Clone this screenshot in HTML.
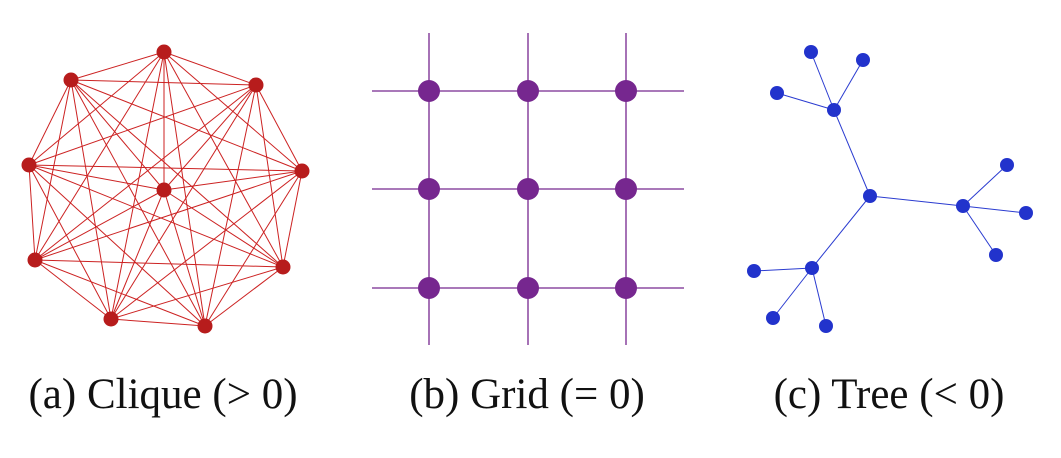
<!DOCTYPE html>
<html><head><meta charset="utf-8"><style>
html,body{margin:0;padding:0;background:#fff;}
svg{display:block}
text{font-family:"Liberation Serif",serif;font-size:43px;fill:#111}
</style></head><body>
<svg width="1061" height="458" viewBox="0 0 1061 458" xmlns="http://www.w3.org/2000/svg">
<g id="clique" stroke="#cc2222" stroke-width="1">
</g>
<g fill="#b71c1c" id="cn"></g>
<g stroke="#76278f" stroke-width="1.3">
<line x1="429" y1="33" x2="429" y2="345"/><line x1="528" y1="33" x2="528" y2="345"/><line x1="626" y1="33" x2="626" y2="345"/>
<line x1="372" y1="91" x2="684" y2="91"/><line x1="372" y1="189" x2="684" y2="189"/><line x1="372" y1="288" x2="684" y2="288"/>
</g>
<g fill="#76278f">
<circle cx="429" cy="91" r="11"/><circle cx="528" cy="91" r="11"/><circle cx="626" cy="91" r="11"/>
<circle cx="429" cy="189" r="11"/><circle cx="528" cy="189" r="11"/><circle cx="626" cy="189" r="11"/>
<circle cx="429" cy="288" r="11"/><circle cx="528" cy="288" r="11"/><circle cx="626" cy="288" r="11"/>
</g>
<g stroke="#2a3bd0" stroke-width="1">
<line x1="870" y1="196" x2="834" y2="110"/><line x1="870" y1="196" x2="963" y2="206"/><line x1="870" y1="196" x2="812" y2="268"/>
<line x1="834" y1="110" x2="811" y2="52"/><line x1="834" y1="110" x2="863" y2="60"/><line x1="834" y1="110" x2="777" y2="93"/>
<line x1="963" y1="206" x2="1007" y2="165"/><line x1="963" y1="206" x2="1026" y2="213"/><line x1="963" y1="206" x2="996" y2="255"/>
<line x1="812" y1="268" x2="754" y2="271"/><line x1="812" y1="268" x2="773" y2="318"/><line x1="812" y1="268" x2="826" y2="326"/>
</g>
<g fill="#2233cc">
<circle cx="870" cy="196" r="7"/><circle cx="834" cy="110" r="7"/><circle cx="963" cy="206" r="7"/><circle cx="812" cy="268" r="7"/>
<circle cx="811" cy="52" r="7"/><circle cx="863" cy="60" r="7"/><circle cx="777" cy="93" r="7"/>
<circle cx="1007" cy="165" r="7"/><circle cx="1026" cy="213" r="7"/><circle cx="996" cy="255" r="7"/>
<circle cx="754" cy="271" r="7"/><circle cx="773" cy="318" r="7"/><circle cx="826" cy="326" r="7"/>
</g>
<text x="163" y="408" text-anchor="middle">(a) Clique (&gt; 0)</text>
<text x="527" y="408" text-anchor="middle">(b) Grid (= 0)</text>
<text x="889" y="408" text-anchor="middle">(c) Tree (&lt; 0)</text>
</svg>
<script>
var p=[[164,52],[256,85],[302,171],[283,267],[205,326],[111,319],[35,260],[29,165],[71,80],[164,190]];
var ns="http://www.w3.org/2000/svg",g=document.getElementById("clique"),c=document.getElementById("cn");
for(var i=0;i<p.length;i++)for(var j=i+1;j<p.length;j++){var l=document.createElementNS(ns,"line");l.setAttribute("x1",p[i][0]);l.setAttribute("y1",p[i][1]);l.setAttribute("x2",p[j][0]);l.setAttribute("y2",p[j][1]);g.appendChild(l);}
p.forEach(function(q){var e=document.createElementNS(ns,"circle");e.setAttribute("cx",q[0]);e.setAttribute("cy",q[1]);e.setAttribute("r",7.5);c.appendChild(e);});
</script>
</body></html>
